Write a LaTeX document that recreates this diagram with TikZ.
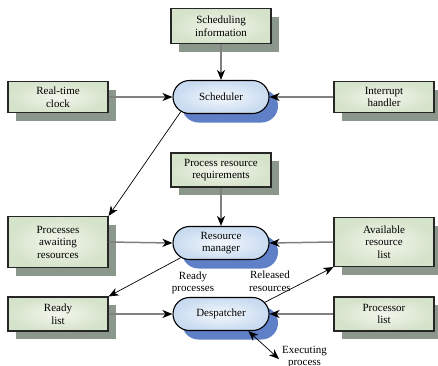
\documentclass[tikz,border=0pt]{standalone}
\usepackage{fontspec}
\setmainfont{Liberation Serif}
\usetikzlibrary{arrows.meta,shadows,shapes.misc}
\definecolor{boxin}{HTML}{F2F6EC}
\definecolor{boxout}{HTML}{D6E3CB}
\definecolor{boxshadow}{HTML}{8C978B}
\definecolor{rin}{HTML}{F4F8FD}
\definecolor{rout}{HTML}{C9DBF0}
\definecolor{rshadow}{HTML}{5F7FC6}
\definecolor{flow}{HTML}{808080}
\begin{document}
\begin{tikzpicture}[x=1pt,y=-1pt,
  lbl/.style={font=\fontsize{11}{12.5}\selectfont, align=center},
  infobox/.style={lbl, draw=black!85, line width=1.1pt, rectangle,
    minimum width=100pt, inner sep=1pt,
    inner color=boxin, outer color=boxout,
    general shadow={fill=boxshadow, shadow xshift=8pt, shadow yshift=-8pt}},
  proc/.style={lbl, draw=black, line width=1.1pt, rounded rectangle,
    minimum width=98pt, minimum height=33pt, inner sep=1pt,
    inner color=rin, outer color=rout,
    general shadow={fill=rshadow, shadow xshift=9pt, shadow yshift=-9pt}},
  flowarrow/.style={draw=flow, line width=1.5pt,
    -{Stealth[length=10pt,width=8pt,inset=3pt,color=black]}},
  thinarrow/.style={draw=black, line width=0.7pt,
    -{Stealth[length=10pt,width=8pt,inset=3pt,color=black]}},
  freelabel/.style={lbl}
]
\useasboundingbox (0,0) rectangle (438,365);

\node[infobox, minimum height=35pt] (sinfo) at (221,26) {Scheduling\\information};
\node[infobox, minimum height=31pt] (clock) at (58,97) {Real-time\\clock};
\node[proc] (sched) at (221,97) {Scheduler};
\node[infobox, minimum height=31pt] (intr) at (384,97) {Interrupt\\handler};

\node[infobox, minimum height=34pt] (preq) at (221,170) {Process resource\\requirements};
\node[infobox, minimum height=51pt] (await) at (58,242) {Processes\\awaiting\\resources};
\node[proc] (rman) at (221,243) {Resource\\manager};
\node[infobox, minimum height=49pt] (avail) at (384,242) {Available\\resource\\list};

\node[infobox, minimum height=34pt] (ready) at (58,314) {Ready\\list};
\node[proc] (desp) at (221,314) {Despatcher};
\node[infobox, minimum height=34pt] (plist) at (384,314) {Processor\\list};

\node[freelabel] (rp) at (193,283) {Ready\\processes};
\node[freelabel] (rr) at (270,281) {Released\\resources};
\node[freelabel, anchor=north west, inner sep=0pt] (ep) at (282,346) {Executing\\process};
\coordinate (exend) at (279,359);

\draw[flowarrow] (sinfo.south) -- (sched.north);
\draw[flowarrow] (clock.east) -- (sched.west);
\draw[flowarrow] (intr.west) -- (sched.east);
\draw[thinarrow] (sched.200) -- (await.north east);

\draw[flowarrow] (preq.south) -- (rman.north);
\draw[flowarrow] (await.east) -- (rman.west);
\draw[flowarrow] (avail.west) -- (rman.east);
\draw[thinarrow] (rman.200) -- (ready.north east);

\draw[flowarrow] (ready.east) -- (desp.west);
\draw[flowarrow] (plist.west) -- (desp.east);
\draw[thinarrow] (desp.15) -- (avail.south west);
\draw[thinarrow, {Stealth[length=10pt,width=8pt,inset=3pt]}-{Stealth[length=10pt,width=8pt,inset=3pt]}] (desp.-32) -- (exend);
\end{tikzpicture}
\end{document}
